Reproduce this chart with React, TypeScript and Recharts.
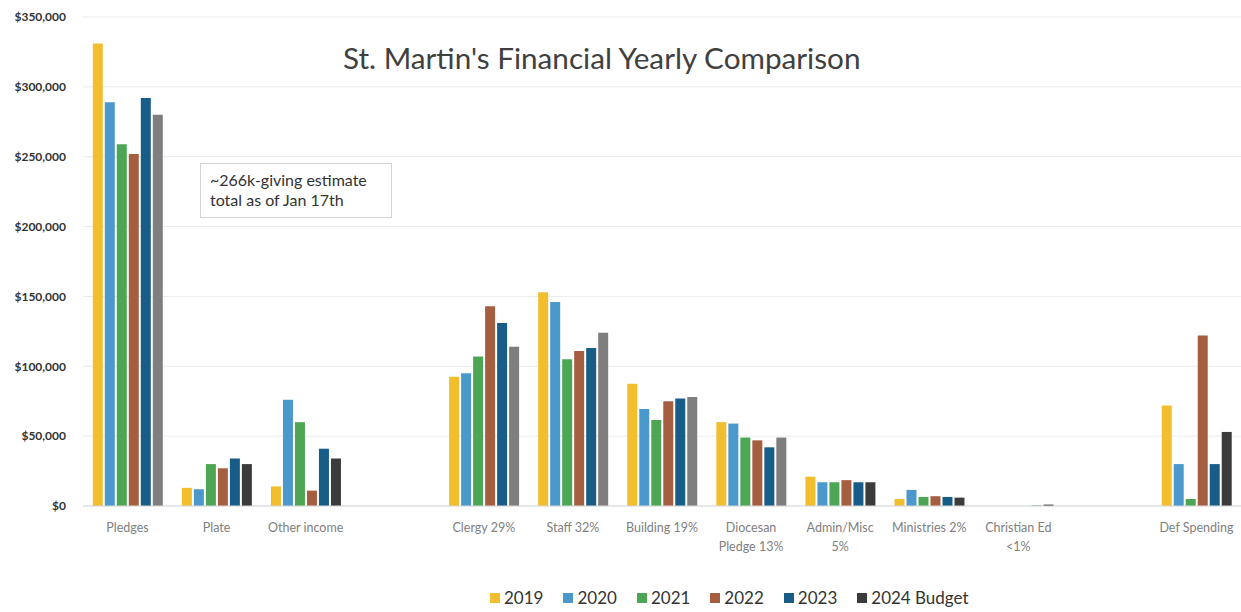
import React from 'react';
import { BarChart, Bar, XAxis, YAxis, CartesianGrid, Legend, Cell } from 'recharts';

// categories (blank slots keep the gaps between the groups)
const categories = [
  'Pledges', 'Plate', 'Other income', ' ',
  'Clergy 29%', 'Staff 32%', 'Building 19%', 'Diocesan\nPledge 13%',
  'Admin/Misc\n5%', 'Ministries 2%', 'Christian Ed\n<1%', '  ', 'Def Spending',
];

const y2019 = [331000, 13000, 14000, 0, 92500, 153000, 87500, 60000, 21000, 5000, 0, 0, 72000];
const y2020 = [289000, 12000, 76000, 0, 95000, 146000, 69500, 59000, 17000, 11500, 0, 0, 30000];
const y2021 = [259000, 30000, 60000, 0, 107000, 105000, 61500, 49000, 17000, 6500, 0, 0, 5000];
const y2022 = [252000, 27000, 11000, 0, 143000, 111000, 75000, 47000, 18500, 7000, 0, 0, 122000];
const y2023 = [292000, 34000, 41000, 0, 131000, 113000, 77000, 42000, 17000, 6500, 300, 0, 30000];
const y2024 = [280000, 30000, 34000, 0, 114000, 124000, 78000, 49000, 17000, 6000, 1000, 0, 53000];

const yTicks = [0, 50000, 100000, 150000, 200000, 250000, 300000, 350000];

// budget bars drawn grey in these groups
const greyBudget = ['Pledges', 'Clergy 29%', 'Staff 32%', 'Building 19%', 'Diocesan\nPledge 13%'];

const series = [
  { key: 'y2019', name: '2019', color: '#F2BE2E' },
  { key: 'y2020', name: '2020', color: '#4A98CC' },
  { key: 'y2021', name: '2021', color: '#4CA654' },
  { key: 'y2022', name: '2022', color: '#A65E40' },
  { key: 'y2023', name: '2023', color: '#175D87' },
  { key: 'y2024', name: '2024 Budget', color: '#3B3B3B' },
];

const data = categories.map((name, i) => ({
  name,
  y2019: y2019[i], y2020: y2020[i], y2021: y2021[i],
  y2022: y2022[i], y2023: y2023[i], y2024: y2024[i],
}));

const FONT = 'Lato, "Open Sans", sans-serif';

const CategoryTick = ({ x, y, payload }: any) => {
  const lines = String(payload.value).split('\n');
  return (
    <text x={x} y={y} textAnchor="middle" fill="#808080" fontSize={12.5} fontFamily={FONT}>
      {lines.map((l, i) => (
        <tspan key={i} x={x} dy={i === 0 ? 18 : 19}>{l}</tspan>
      ))}
    </text>
  );
};

const LegendRow = () => (
  <div style={{ display: 'flex', fontFamily: FONT, fontSize: 17, color: '#333' }}>
    {series.map(s => (
      <div key={s.key} style={{ display: 'flex', alignItems: 'center', marginRight: 20 }}>
        <span style={{ width: 10, height: 10, background: s.color, marginRight: 4, display: 'inline-block' }} />
        {s.name}
      </div>
    ))}
  </div>
);

export default function App() {
  return (
    <div style={{ position: 'absolute', left: 0, top: 0, width: 1241, height: 612, background: '#fff' }}>
      <BarChart
        width={1241}
        height={612}
        data={data}
        margin={{ top: 17, right: 0, left: 8, bottom: 35 }}
        barCategoryGap="11%"
        barGap={2}
      >
        <CartesianGrid vertical={false} stroke="#ebebeb" />
        <XAxis
          dataKey="name"
          height={50}
          axisLine={{ stroke: '#d9d9d9' }}
          tickLine={false}
          interval={0}
          tick={<CategoryTick />}
        />
        <YAxis
          width={75}
          domain={[0, 350000]}
          ticks={yTicks}
          axisLine={false}
          tickLine={false}
          tickSize={0}
          tickMargin={17}
          tick={{ fill: '#333', fontSize: 12, fontWeight: 700, fontFamily: FONT }}
          tickFormatter={(v: number) => `$${v.toLocaleString('en-US')}`}
        />
        <Legend
          verticalAlign="bottom"
          wrapperStyle={{ left: 490, bottom: 4, width: 'auto' }}
          content={<LegendRow />}
        />
        {series.map(s => (
          <Bar key={s.key} dataKey={s.key} name={s.name} fill={s.color} isAnimationActive={false}>
            {s.key === 'y2024' &&
              data.map(d => (
                <Cell key={d.name} fill={greyBudget.includes(d.name) ? '#7E7E7E' : s.color} />
              ))}
          </Bar>
        ))}
      </BarChart>

      <div style={{
        position: 'absolute', left: 343, top: 40, fontFamily: FONT, fontSize: 29.7,
        color: '#404040', whiteSpace: 'nowrap',
      }}>
        St. Martin's Financial Yearly Comparison
      </div>

      <div style={{
        position: 'absolute', left: 200, top: 163, width: 192, height: 55, boxSizing: 'border-box',
        border: '1px solid #d4d4d4', background: '#fff', padding: '6px 9px',
        fontFamily: FONT, fontSize: 16, lineHeight: '20px', color: '#333',
      }}>
        ~266k-giving estimate<br />total as of Jan 17th
      </div>
    </div>
  );
}
